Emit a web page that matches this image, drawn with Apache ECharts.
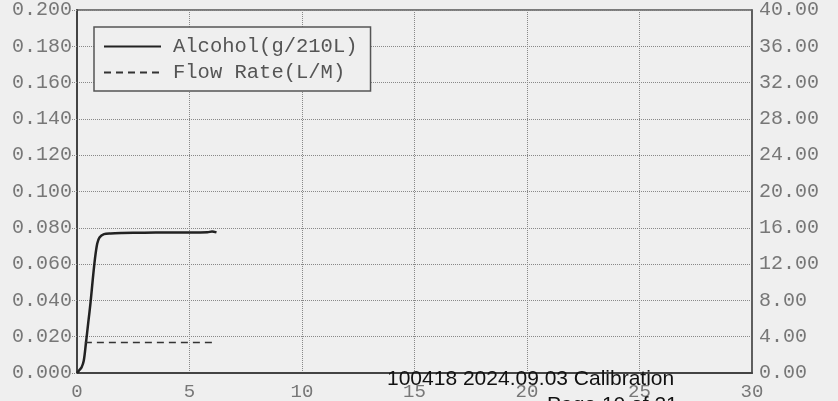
<!DOCTYPE html>
<html>
<head>
<meta charset="utf-8">
<script src="https://cdn.jsdelivr.net/npm/echarts@6/dist/echarts.min.js"></script>
<style>
html,body{margin:0;padding:0;background:#efefef;}
#main{width:838px;height:401px;}
</style>
</head>
<body>
<div id="main"></div>
<script>
// 数据
var timeSec = [0, 0.1, 0.2, 0.3, 0.4, 0.5, 0.6, 0.7, 0.8, 0.9, 1.0, 1.2, 1.5, 2, 3, 4, 5, 5.8, 6.0, 6.2];
var alcohol = [0, 0.0015, 0.003, 0.0067, 0.0168, 0.0277, 0.0386, 0.0514, 0.0632, 0.0714, 0.0747, 0.0765, 0.0769, 0.0771, 0.0773, 0.0774, 0.0774, 0.0775, 0.0780, 0.0775];
var flowTime = [0.35, 1, 2, 3, 4, 5, 6.2];
var flowRate = [3.35, 3.35, 3.35, 3.35, 3.35, 3.35, 3.35];
var legendNames = ['Alcohol(g/210L)', 'Flow Rate(L/M)'];
var footText = '100418 2024.09.03 Calibration';
var pageText = 'Page 10 of 21';

function pairs(xs, ys) {
    var out = [];
    for (var i = 0; i < xs.length; i++) {
        out.push([xs[i], ys[i]]);
    }
    return out;
}

var monoFont = 'Liberation Mono';
var chart = echarts.init(document.getElementById('main'));

var option = {
    backgroundColor: '#efefef',
    animation: false,
    grid: {
        left: 77, right: 86, top: 8, bottom: 27,
        show: true,
        borderColor: '#555',
        borderWidth: 1.5
    },
    legend: {
        left: 94, top: 27,
        orient: 'vertical',
        data: legendNames,
        itemWidth: 57,
        itemHeight: 10,
        itemGap: 5,
        padding: [9, 13, 8, 9],
        borderColor: '#555',
        borderWidth: 1.5,
        backgroundColor: '#efefef',
        itemStyle: { opacity: 0 },
        textStyle: { fontFamily: monoFont, fontSize: 20.5, color: '#555', padding: [0, 0, 0, 7] }
    },
    xAxis: {
        type: 'value',
        min: 0, max: 30, interval: 5,
        axisLine: { show: true, lineStyle: { color: '#444', width: 2 } },
        axisTick: { show: false },
        axisLabel: { fontFamily: monoFont, fontSize: 19, color: '#777', margin: 9 },
        splitLine: { show: true, lineStyle: { type: 'dotted', color: '#888', width: 1 } }
    },
    yAxis: [
        {
            type: 'value',
            min: 0, max: 0.2, interval: 0.02,
            axisLine: { show: true, lineStyle: { color: '#444', width: 2 } },
            axisTick: { show: true, length: 5, lineStyle: { type: 'dotted', color: '#888' } },
            axisLabel: {
                fontFamily: monoFont, fontSize: 20, color: '#777', margin: 5,
                formatter: function (v) { return v.toFixed(3); }
            },
            splitLine: { show: true, lineStyle: { type: 'dotted', color: '#888', width: 1 } }
        },
        {
            type: 'value',
            min: 0, max: 40, interval: 4,
            position: 'right',
            axisLine: { show: true, lineStyle: { color: '#555', width: 1.5 } },
            axisTick: { show: false },
            axisLabel: {
                fontFamily: monoFont, fontSize: 20, color: '#777', margin: 7,
                formatter: function (v) { return v.toFixed(2); }
            },
            splitLine: { show: false }
        }
    ],
    series: [
        {
            name: legendNames[0],
            type: 'line',
            data: pairs(timeSec, alcohol),
            showSymbol: false,
            symbol: 'none',
            smooth: 0.3,
            lineStyle: { color: '#222', width: 2.5 },
            itemStyle: { color: '#222' }
        },
        {
            name: legendNames[1],
            type: 'line',
            yAxisIndex: 1,
            data: pairs(flowTime, flowRate),
            showSymbol: false,
            symbol: 'none',
            lineStyle: { color: '#333', width: 1.5, type: [7, 5] },
            itemStyle: { color: '#333' }
        }
    ],
    graphic: [
        {
            type: 'text', left: 387, top: 369, z: 100,
            style: { text: footText, fontFamily: 'Liberation Sans', fontSize: 21, fill: '#111' }
        },
        {
            type: 'text', left: 547, top: 395, z: 100,
            style: { text: pageText, fontFamily: 'Liberation Sans', fontSize: 21, fill: '#111' }
        }
    ]
};

chart.setOption(option);
</script>
</body>
</html>
